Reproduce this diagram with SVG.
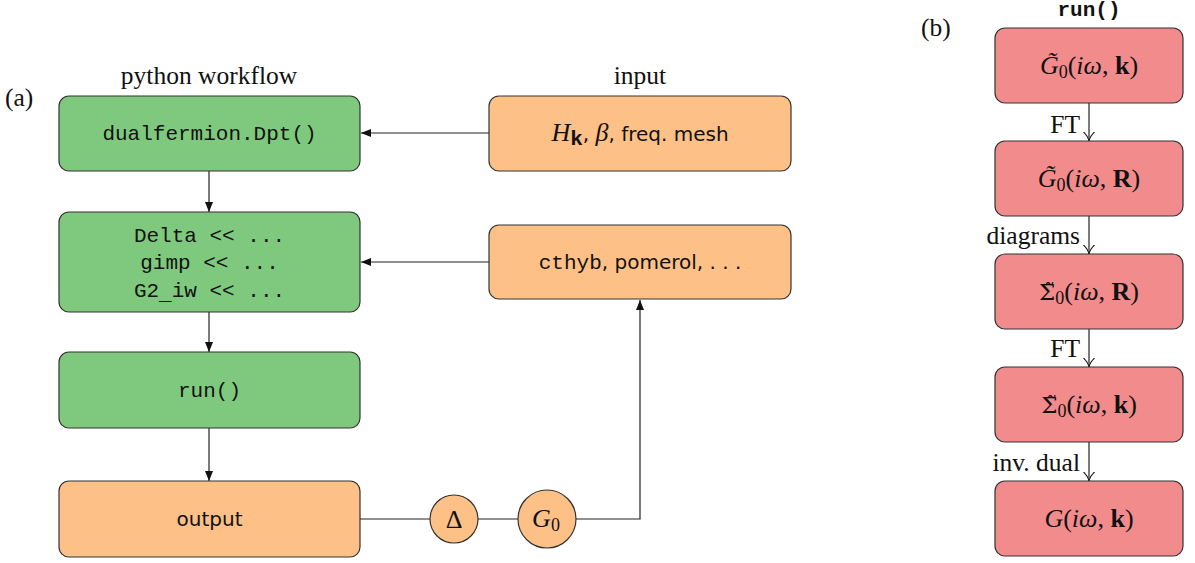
<svg xmlns="http://www.w3.org/2000/svg" width="1195" height="563" viewBox="0 0 1195 563">
<style>
.box{stroke:#333;stroke-width:1.2}
.g{fill:#7fc97f}
.o{fill:#fdc086}
.r{fill:#f28b8c}
.serif{font-family:"Liberation Serif","DejaVu Serif",serif;font-size:25.5px;fill:#111}
.mono{font-family:"Liberation Mono","DejaVu Sans Mono",monospace;font-size:21px;fill:#111}
.sans{font-family:"DejaVu Sans","Liberation Sans",sans-serif;font-size:20px;fill:#111}
.math{font-family:"Liberation Serif","DejaVu Serif",serif;font-size:26px;fill:#111}
.sig{font-family:"DejaVu Serif",serif;font-size:23px;fill:#111}
.it{font-style:italic}
.bf{font-weight:bold}
.sub{font-size:18px}
.ln{stroke:#222;stroke-width:1.2;fill:none}
</style>
<defs>
<marker id="ah" viewBox="0 0 10 8" refX="10" refY="4" markerWidth="10" markerHeight="8" markerUnits="userSpaceOnUse" orient="auto">
<path d="M0,0 L10,4 L0,8 z" fill="#111"/>
</marker>
<marker id="to" viewBox="0 0 10 12" refX="9" refY="6" markerWidth="10" markerHeight="12" markerUnits="userSpaceOnUse" orient="auto">
<path d="M0,0.5 Q4,5 9,6 Q4,7 0,11.5" fill="none" stroke="#111" stroke-width="1.1"/>
</marker>
</defs>

<text class="serif" x="5" y="106">(a)</text>
<text class="serif" x="921" y="36">(b)</text>
<text class="serif" x="209" y="84" text-anchor="middle">python workflow</text>
<text class="serif" x="640" y="84" text-anchor="middle">input</text>

<g id="connectors">
<line class="ln" x1="209" y1="171" x2="209" y2="212" marker-end="url(#ah)"/>
<line class="ln" x1="209" y1="312" x2="209" y2="352" marker-end="url(#ah)"/>
<line class="ln" x1="209" y1="428" x2="209" y2="481" marker-end="url(#ah)"/>
<line class="ln" x1="489" y1="133" x2="361" y2="133" marker-end="url(#ah)"/>
<line class="ln" x1="489" y1="262" x2="361" y2="262" marker-end="url(#ah)"/>
<line class="ln" x1="360" y1="519" x2="430" y2="519"/>
<line class="ln" x1="478" y1="519" x2="518" y2="519"/>
<polyline class="ln" points="576,519 640,519 640,300" marker-end="url(#ah)"/>
<line class="ln" x1="1089" y1="103" x2="1089" y2="141" marker-end="url(#to)"/>
<line class="ln" x1="1089" y1="216" x2="1089" y2="254" marker-end="url(#to)"/>
<line class="ln" x1="1089" y1="329" x2="1089" y2="367" marker-end="url(#to)"/>
<line class="ln" x1="1089" y1="442" x2="1089" y2="481" marker-end="url(#to)"/>
<text class="serif" x="1080" y="133" text-anchor="end">FT</text>
<text class="serif" x="1080" y="244" text-anchor="end">diagrams</text>
<text class="serif" x="1080" y="357" text-anchor="end">FT</text>
<text class="serif" x="1080" y="471" text-anchor="end">inv. dual</text>
</g>

<g id="dpt">
<rect class="box g" x="59" y="96" width="301" height="75" rx="10"/>
<text class="mono" x="209.5" y="140" text-anchor="middle">dualfermion.Dpt()</text>
</g>
<g id="setup">
<rect class="box g" x="59" y="212" width="301" height="100" rx="10"/>
<text class="mono" x="209.5" y="242" text-anchor="middle">Delta &lt;&lt; ...</text>
<text class="mono" x="209.5" y="269" text-anchor="middle">gimp &lt;&lt; ...</text>
<text class="mono" x="209.5" y="297" text-anchor="middle">G2<tspan dy="3">_</tspan><tspan dy="-3">iw &lt;&lt; ...</tspan></text>
</g>
<g id="run">
<rect class="box g" x="59" y="352" width="301" height="76" rx="10"/>
<text class="mono" x="209.5" y="397" text-anchor="middle">run()</text>
</g>
<g id="output">
<rect class="box o" x="59" y="481" width="301" height="76" rx="10"/>
<text class="sans" x="209.5" y="526" text-anchor="middle">output</text>
</g>
<g id="input1">
<rect class="box o" x="489" y="96" width="302" height="75" rx="10"/>
<text x="640" y="141" text-anchor="middle"><tspan class="math it">H</tspan><tspan class="mono bf" font-size="14" dy="4">k</tspan><tspan class="sans" dy="-4">, </tspan><tspan class="math it">β</tspan><tspan class="sans">, freq.  mesh</tspan></text>
</g>
<g id="input2">
<rect class="box o" x="489" y="225" width="302" height="74" rx="10"/>
<text x="640" y="269" text-anchor="middle"><tspan class="mono">cthyb</tspan><tspan class="sans">, pomerol, . . .</tspan></text>
</g>
<g id="delta">
<circle class="box o" cx="454" cy="519" r="24"/>
<text class="math" x="454" y="528" text-anchor="middle">Δ</text>
</g>
<g id="g0">
<circle class="box o" cx="547" cy="519" r="29"/>
<text x="546" y="527" text-anchor="middle"><tspan class="math it">G</tspan><tspan class="math sub" dy="4">0</tspan></text>
</g>

<text class="mono" x="1089" y="16" text-anchor="middle" font-weight="bold">run()</text>
<g id="b1">
<rect class="box r" x="995" y="28" width="188" height="75" rx="10"/>
<text x="1089" y="74" text-anchor="middle"><tspan class="math it">G̃</tspan><tspan class="math sub" dy="4">0</tspan><tspan class="math" dy="-4">(</tspan><tspan class="math it">iω</tspan><tspan class="math">, </tspan><tspan class="math bf">k</tspan><tspan class="math">)</tspan></text>
</g>
<g id="b2">
<rect class="box r" x="995" y="141" width="188" height="75" rx="10"/>
<text x="1089" y="187" text-anchor="middle"><tspan class="math it">G̃</tspan><tspan class="math sub" dy="4">0</tspan><tspan class="math" dy="-4">(</tspan><tspan class="math it">iω</tspan><tspan class="math">, </tspan><tspan class="math bf">R</tspan><tspan class="math">)</tspan></text>
</g>
<g id="b3">
<rect class="box r" x="995" y="254" width="188" height="75" rx="10"/>
<text x="1089" y="300" text-anchor="middle"><tspan class="sig">Σ̃</tspan><tspan class="math sub" dy="4">0</tspan><tspan class="math" dy="-4">(</tspan><tspan class="math it">iω</tspan><tspan class="math">, </tspan><tspan class="math bf">R</tspan><tspan class="math">)</tspan></text>
</g>
<g id="b4">
<rect class="box r" x="995" y="367" width="188" height="75" rx="10"/>
<text x="1089" y="413" text-anchor="middle"><tspan class="sig">Σ̃</tspan><tspan class="math sub" dy="4">0</tspan><tspan class="math" dy="-4">(</tspan><tspan class="math it">iω</tspan><tspan class="math">, </tspan><tspan class="math bf">k</tspan><tspan class="math">)</tspan></text>
</g>
<g id="b5">
<rect class="box r" x="995" y="481" width="188" height="75" rx="10"/>
<text x="1089" y="527" text-anchor="middle"><tspan class="math it">G</tspan><tspan class="math">(</tspan><tspan class="math it">iω</tspan><tspan class="math">, </tspan><tspan class="math bf">k</tspan><tspan class="math">)</tspan></text>
</g>
</svg>
